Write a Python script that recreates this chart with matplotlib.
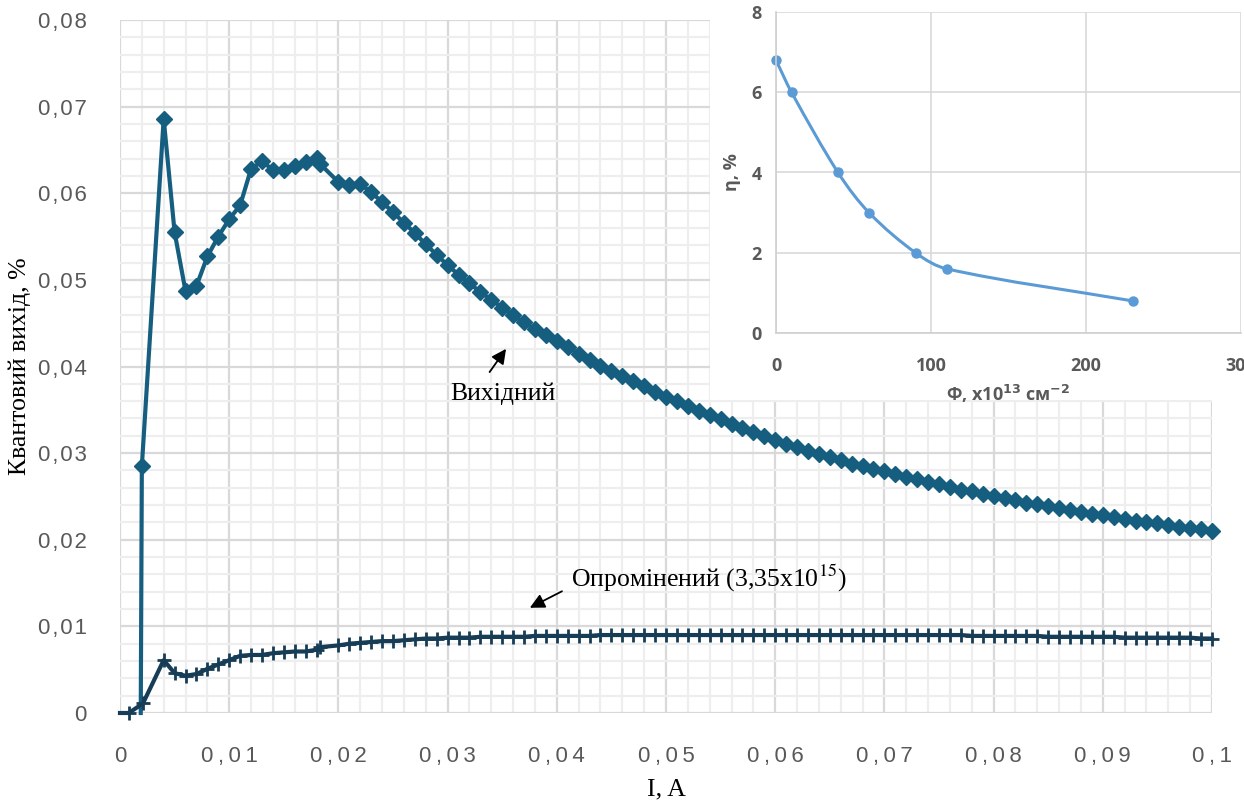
import numpy as np
import matplotlib.pyplot as plt
from matplotlib.patches import Rectangle, PathPatch
from matplotlib.path import Path
from matplotlib.ticker import MultipleLocator

plt.rcParams['font.family'] = ['Liberation Sans', 'DejaVu Sans']

# Вихідний (початок кривої)
x_vyh_head = [0.0019, 0.002, 0.004, 0.005, 0.006, 0.007, 0.008, 0.009, 0.010, 0.011,
              0.012, 0.013, 0.014, 0.015, 0.016, 0.017, 0.018, 0.0183, 0.020, 0.021, 0.022]
y_vyh_head = [0.0, 0.0285, 0.0686, 0.0555, 0.0487, 0.0493, 0.0527, 0.0550, 0.0570, 0.0586,
              0.0628, 0.0637, 0.0627, 0.0627, 0.0631, 0.0636, 0.0641, 0.0634, 0.0613, 0.0609, 0.0611]
# Вихідний, 0.023 ... 0.100 з кроком 0.001
y_vyh_tail = [0.0601, 0.0590, 0.0578, 0.0566, 0.0554, 0.0541, 0.0529, 0.0517,
              0.0506, 0.0496, 0.0486, 0.0477, 0.0468, 0.0459, 0.0451, 0.0443, 0.0436, 0.0429,
              0.0422, 0.0415, 0.0408, 0.0401, 0.0395, 0.0389, 0.0383, 0.0377, 0.0371, 0.0365,
              0.0360, 0.0354, 0.0349, 0.0344, 0.0339, 0.0334, 0.0329, 0.0324, 0.0320, 0.0315,
              0.0311, 0.0307, 0.0303, 0.0299, 0.0296, 0.0292, 0.0288, 0.0285, 0.0282, 0.0279,
              0.0276, 0.0273, 0.0270, 0.0267, 0.0264, 0.0261, 0.0258, 0.0256, 0.0253, 0.0251,
              0.0248, 0.0246, 0.0243, 0.0241, 0.0239, 0.0237, 0.0234, 0.0232, 0.0230, 0.0228,
              0.0226, 0.0224, 0.0222, 0.0221, 0.0219, 0.0217, 0.0215, 0.0214, 0.0212, 0.0210]

# Опромінений (3,35x10^15)
x_opr_head = [0.0, 0.0008, 0.0021, 0.004, 0.005, 0.006, 0.007, 0.008, 0.009, 0.010, 0.011,
              0.012, 0.013, 0.014, 0.015, 0.016, 0.017, 0.018, 0.0183]
y_opr_head = [0.0, 0.0, 0.0011, 0.0061, 0.0046, 0.0043, 0.0045, 0.0051, 0.0056, 0.0061, 0.0066,
              0.0067, 0.0067, 0.0069, 0.0070, 0.0071, 0.0071, 0.0073, 0.0076]
# Опромінений, 0.020 ... 0.100 з кроком 0.001
y_opr_tail = [0.0078, 0.0080, 0.0081, 0.0082, 0.0083, 0.0083, 0.0084, 0.0085, 0.0086, 0.0086, 0.0087,
              0.0087, 0.0087, 0.0088, 0.0088, 0.0088, 0.0088, 0.0088, 0.0089, 0.0089, 0.0089,
              0.0089, 0.0089, 0.0089, 0.0090, 0.0090, 0.0090, 0.0090, 0.0090, 0.0090, 0.0090,
              0.0090, 0.0090, 0.0090, 0.0090, 0.0090, 0.0090, 0.0090, 0.0090, 0.0090, 0.0090,
              0.0090, 0.0090, 0.0090, 0.0090, 0.0090, 0.0090, 0.0090, 0.0090, 0.0090, 0.0090,
              0.0090, 0.0090, 0.0090, 0.0090, 0.0090, 0.0090, 0.0090, 0.0089, 0.0089, 0.0089,
              0.0089, 0.0089, 0.0089, 0.0089, 0.0088, 0.0088, 0.0088, 0.0088, 0.0088, 0.0088,
              0.0088, 0.0087, 0.0087, 0.0087, 0.0087, 0.0087, 0.0087, 0.0087, 0.0086, 0.0086]

x_vyh = x_vyh_head + list(np.round(np.arange(0.023, 0.1001, 0.001), 3))
y_vyh = y_vyh_head + y_vyh_tail
x_opr = x_opr_head + list(np.round(np.arange(0.020, 0.1001, 0.001), 3))
y_opr = y_opr_head + y_opr_tail

xticks = [0, 0.01, 0.02, 0.03, 0.04, 0.05, 0.06, 0.07, 0.08, 0.09, 0.1]
xtick_labels = ['0', '0,01', '0,02', '0,03', '0,04', '0,05', '0,06', '0,07', '0,08', '0,09', '0,1']
yticks = [0, 0.01, 0.02, 0.03, 0.04, 0.05, 0.06, 0.07, 0.08]
ytick_labels = ['0', '0,01', '0,02', '0,03', '0,04', '0,05', '0,06', '0,07', '0,08']

# вставка: η від флюенсу
phi = [0, 10, 40, 60, 90, 110, 230]
eta = [6.8, 6.0, 4.0, 3.0, 2.0, 1.6, 0.8]

W, H = 1244, 802
fig = plt.figure(figsize=(W / 100, H / 100), dpi=100)
ax = fig.add_axes([120 / W, 1 - 713 / H, 1092 / W, 693 / H])

ax.set_xlim(0, 0.1)
ax.set_ylim(0, 0.08)
ax.xaxis.set_minor_locator(MultipleLocator(0.002))
ax.yaxis.set_minor_locator(MultipleLocator(0.002))
ax.set_xticks(xticks)
ax.set_xticklabels(['\u2009'.join(s) for s in xtick_labels])
ax.set_yticks(yticks)
ax.set_yticklabels(['\u200a'.join(s) for s in ytick_labels])
ax.grid(which='major', color='#d9d9d9', lw=1.6, zorder=0)
ax.grid(which='minor', color='#eeeeee', lw=1.6, zorder=0)
ax.set_axisbelow(True)
for s in ax.spines.values():
    s.set_visible(False)
ax.tick_params(which='both', length=0)
ax.tick_params(axis='x', pad=24, labelsize=16, labelcolor='#595959')
ax.tick_params(axis='y', pad=24, labelsize=16, labelcolor='#595959')

ax.plot(x_vyh, y_vyh, color='#165e80', lw=3, marker='D', ms=8.5,
        markevery=list(range(1, len(x_vyh))), clip_on=False, zorder=3)
ax.plot(x_opr, y_opr, color='#173d56', lw=3, marker='+', ms=10, mew=2,
        markevery=list(range(1, len(x_opr))), clip_on=False, zorder=4)

serif = 'Liberation Serif'
ax.set_xlabel('I, A', fontfamily=serif, fontsize=18.5, labelpad=8)
ax.set_ylabel('Квантовий вихід, %', fontfamily=serif, fontsize=18.5)
ax.yaxis.label.set_va('center')
ax.yaxis.set_label_coords((20 - 120) / 1092, 0.5)

ax.annotate('', xy=(0.0355, 0.0423), xytext=(0.0337, 0.0391),
            arrowprops=dict(arrowstyle='-|>', color='black', lw=1.3, mutation_scale=22))
ax.text(0.0351, 0.0368, 'Вихідний', fontfamily=serif, fontsize=18.5, ha='center', va='center')
ax.annotate('', xy=(0.0373, 0.0120), xytext=(0.0407, 0.0142),
            arrowprops=dict(arrowstyle='-|>', color='black', lw=1.3, mutation_scale=22))
ax.text(0.0413, 0.0155, 'Опромінений (3,35x10$^{15}$)', fontfamily=serif, fontsize=18.5,
        math_fontfamily='stix', ha='left', va='center')

# білий фон під вставкою
fig.patches.append(Rectangle((710 / W, 1 - 400 / H), (W - 710) / W, 400 / H,
                             transform=fig.transFigure, facecolor='white',
                             edgecolor='none', zorder=1))

ins = fig.add_axes([776 / W, 1 - 333 / H, 465 / W, 321 / H], zorder=2)
ins.set_xlim(0, 300)
ins.set_ylim(0, 8)
ins.set_xticks([0, 100, 200, 300])
ins.set_yticks([0, 2, 4, 6, 8])
ins.grid(color='#d9d9d9', lw=1.2)
ins.set_axisbelow(True)
for k in ['top', 'right']:
    ins.spines[k].set_visible(False)
for k in ['left', 'bottom']:
    ins.spines[k].set_color('#d0d0d0')
    ins.spines[k].set_linewidth(1.2)
ins.tick_params(length=0, labelsize=13, labelcolor='#595959')
ins.tick_params(axis='x', pad=17)
ins.tick_params(axis='y', pad=10)
for lab in ins.get_xticklabels() + ins.get_yticklabels():
    lab.set_fontweight('bold')
    lab.set_fontfamily(['Open Sans', 'DejaVu Sans'])

# згладжена лінія через точки (кубічні Безьє з нахилами за центральною різницею)
px = np.array(phi, dtype=float)
py = np.array(eta, dtype=float)
n = len(px)
m = np.empty(n)
m[0] = (py[1] - py[0]) / (px[1] - px[0])
m[-1] = (py[-1] - py[-2]) / (px[-1] - px[-2])
for i in range(1, n - 1):
    m[i] = (py[i + 1] - py[i - 1]) / (px[i + 1] - px[i - 1])
verts = [(px[0], py[0])]
codes = [Path.MOVETO]
for i in range(n - 1):
    h = (px[i + 1] - px[i]) / 3
    verts += [(px[i] + h, py[i] + h * m[i]), (px[i + 1] - h, py[i + 1] - h * m[i + 1]),
              (px[i + 1], py[i + 1])]
    codes += [Path.CURVE4] * 3
ins.add_patch(PathPatch(Path(verts, codes), facecolor='none', edgecolor='#5b9bd5', lw=2.2))
ins.plot(phi, eta, ls='none', marker='o', ms=6.5, color='#5b9bd5', clip_on=False)

ins.set_ylabel('η, %', fontsize=13, fontweight='bold', color='#595959',
               fontfamily=['Open Sans', 'DejaVu Sans'], labelpad=8)
ins.set_xlabel('Φ, x10$^{\\mathbf{13}}$ см$^{\\mathbf{-2}}$', fontsize=13, fontweight='bold',
               color='#595959', fontfamily=['Open Sans', 'DejaVu Sans'], labelpad=6)

fig.savefig('out.png', dpi=100)
